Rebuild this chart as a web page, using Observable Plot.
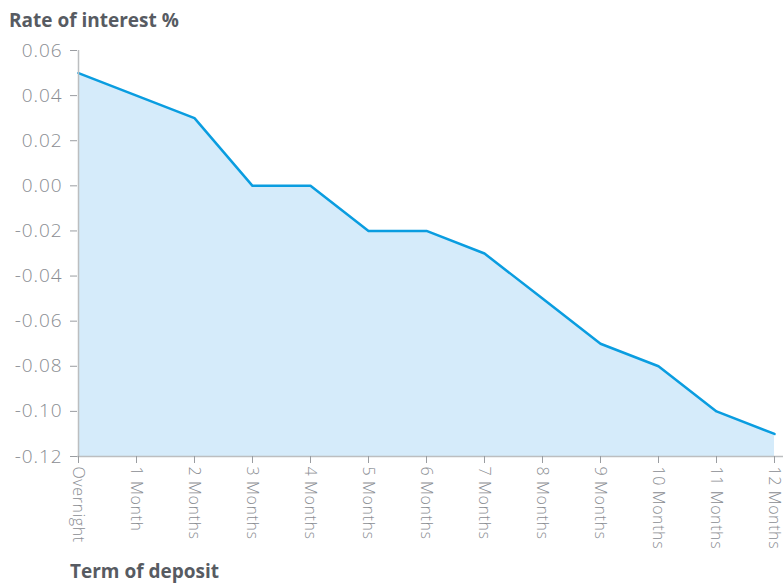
<!DOCTYPE html>
<html>
<head>
<meta charset="utf-8">
<script src="https://cdn.jsdelivr.net/npm/d3@7"></script>
<script src="https://cdn.jsdelivr.net/npm/@observablehq/plot@0.6"></script>
<style>
  html, body { margin: 0; padding: 0; background: #fff; }
  body { width: 783px; height: 583px; overflow: hidden; font-family: "Open Sans", sans-serif; }
  .title { position: absolute; left: 9px; top: 10px; font-size: 19px; line-height: 20px; font-weight: 700; color: #575b62; }
  .xtitle { position: absolute; left: 70px; top: 561px; font-size: 19px; line-height: 20px; font-weight: 700; color: #575b62; }
  #chart { position: absolute; left: 0; top: 30px; }
  #chart svg { overflow: visible; }
  g[aria-label="y-axis tick label"] text { letter-spacing: 0.9px; }
  g[aria-label="x-axis tick label"] text { letter-spacing: 0.6px; }
</style>
</head>
<body>
<div class="title">Rate of interest %</div>
<div id="chart"></div>
<div class="xtitle">Term of deposit</div>
<script>
const terms = ["Overnight","1 Month","2 Months","3 Months","4 Months","5 Months","6 Months","7 Months","8 Months","9 Months","10 Months","11 Months","12 Months"];
const rates = [0.05, 0.04, 0.03, 0.00, 0.00, -0.02, -0.02, -0.03, -0.05, -0.07, -0.08, -0.10, -0.11];
const yTicks = [0.06, 0.04, 0.02, 0.00, -0.02, -0.04, -0.06, -0.08, -0.10, -0.12];
const yMin = -0.12, yMax = 0.06;

const data = terms.map((t, i) => ({term: t, rate: rates[i]}));

const chart = Plot.plot({
  width: 783,
  height: 530,
  marginLeft: 77,
  marginRight: 0,
  marginTop: 20,
  marginBottom: 104,
  style: {fontFamily: "'Open Sans', sans-serif", color: "#8a8d92", background: "transparent"},
  x: {type: "point", domain: terms, padding: 0, insetRight: 9},
  y: {domain: [yMin, yMax]},
  marks: [
    Plot.areaY(data, {x: "term", y1: yMin, y2: "rate", fill: "#d5ebfa"}),
    Plot.line(data, {x: "term", y: "rate", stroke: "#0a9de0", strokeWidth: 2.5}),
    Plot.ruleY([yMin], {stroke: "#bcbec0", strokeWidth: 1.5}),
    Plot.ruleX([terms[0]], {y1: yMin, y2: yMax, stroke: "#bcbec0", strokeWidth: 1.5}),
    Plot.axisY({ticks: yTicks, tickFormat: d => d.toFixed(2), tickSize: 7, tickPadding: 8, fontSize: 19, fontWeight: 300, stroke: "#9a9da1", label: null}),
    Plot.axisX({tickRotate: 90, tickSize: 7, tickPadding: 3, fontSize: 16, fontWeight: 300, stroke: "#9a9da1", label: null})
  ]
});
document.getElementById("chart").appendChild(chart);
</script>
</body>
</html>
